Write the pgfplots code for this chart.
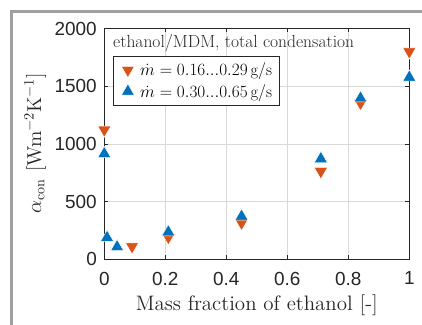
\documentclass[border=0pt]{standalone}
\usepackage{fontspec}
\usepackage{pgfplots}
\pgfplotsset{compat=1.18}
\newfontfamily\ticksfont{Liberation Sans}
\definecolor{morange}{rgb}{0.85,0.325,0.098}
\definecolor{mblue}{rgb}{0,0.447,0.741}
\definecolor{framegray}{RGB}{160,160,160}
\begin{document}
\begin{tikzpicture}[x=1bp,y=1bp]
\path[use as bounding box] (0,0) rectangle (422,325);
\draw[color=framegray, line width=3.5bp] (422,313.5) -- (11.3,313.5) -- (11.3,0);
\begin{axis}[
  at={(104.3bp,65.7bp)}, anchor=south west,
  scale only axis, width=305bp, height=230.8bp,
  xmin=0, xmax=1, ymin=0, ymax=2000,
  xtick={0,0.2,0.4,0.6,0.8,1},
  ytick={0,500,1000,1500,2000},
  /pgf/number format/assume math mode=true,
  /pgf/number format/1000 sep={},
  tick label style={font=\fontsize{19}{21}\selectfont\ticksfont, text=black!85},
  yticklabel style={xshift=-4bp},
  xticklabel style={yshift=-9bp},
  grid=major,
  major grid style={draw=black!15, line width=0.6bp},
  axis line style={draw=black!85, line width=0.8bp},
  tick align=inside,
  major tick length=4bp,
  tick style={draw=black!85, line width=0.6bp},
  clip=false,
  xlabel={Mass fraction of ethanol [-]},
  ylabel={$\alpha_{\mathrm{con}}$ [Wm$^{-2}$K$^{-1}$]},
  xlabel style={at={(axis description cs:0.5,-0.199)}, anchor=center, font=\fontsize{14}{16}\selectfont, scale=1.5, text=black!85},
  ylabel style={at={(axis description cs:-0.226,0.504)}, anchor=center, font=\fontsize{14}{16}\selectfont, scale=1.44, text=black!85},
  legend style={at={(axis description cs:0.0285,0.881)}, anchor=north west,
    draw=black!85, line width=0.8bp, font=\fontsize{16.7}{19}\selectfont,
    inner xsep=5bp, inner ysep=4.5bp, row sep=3bp},
  legend image code/.code={\path[draw=none,fill=none] (0,-0.5bp) rectangle (0.7cm,0.5bp); \draw[#1] plot coordinates {(0.335cm,0cm)};},
  legend cell align=left,
]
\addplot[only marks, mark=triangle*, mark size=7.5pt,
  mark options={fill=morange, draw=white, line width=0.4bp, rotate=180}]
  coordinates {(0,1121) (0.091,110) (0.21,190) (0.45,314) (0.71,761) (0.84,1352) (1,1799)};
\addlegendentry{$\dot{m} = 0.16...0.29\,\mathrm{g/s}$}
\addplot[only marks, mark=triangle*, mark size=7.5pt,
  mark options={fill=mblue, draw=white, line width=0.4bp}]
  coordinates {(0,914) (0.009,188) (0.042,107) (0.21,236) (0.45,372) (0.71,871) (0.84,1396) (1,1577)};
\addlegendentry{$\dot{m} = 0.30...0.65\,\mathrm{g/s}$}
\node[anchor=base west, font=\fontsize{17.6}{20}\selectfont, text=black!85, inner sep=0pt]
  at (axis description cs:0.0285,0.918) {ethanol/MDM, total condensation};
\end{axis}
\end{tikzpicture}
\end{document}
